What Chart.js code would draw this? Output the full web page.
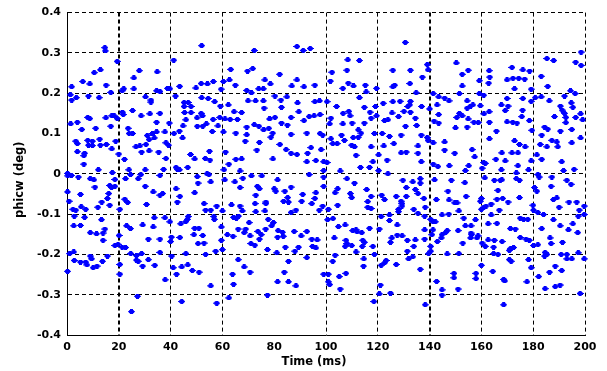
<!DOCTYPE html>
<html>
<head>
<meta charset="utf-8">
<script src="https://cdn.jsdelivr.net/npm/chart.js@4/dist/chart.umd.min.js"></script>
<style>
body{margin:0;background:#fff}
canvas{display:block}
</style>
</head>
<body>
<canvas id="scatterChart" width="607" height="371"></canvas>
<script>

// [time ms, phicw deg], grouped by time range
let pts0to50=[
[14.6,0.313],[14.8,0.305],[19.4,0.279],[41.2,0.282],[12.9,0.258],[10.5,0.251],[27.9,0.256],[34.8,0.253],[25.8,0.238],[6.1,0.229],
[8.8,0.223],[15.1,0.220],[1.8,0.216],[21.9,0.211],[21.3,0.206],[25.8,0.211],[16.9,0.202],[34.6,0.206],[35.9,0.204],[38.8,0.212],
[39.7,0.211],[43.5,0.217],[1.3,0.196],[3.6,0.189],[1.8,0.183],[8.3,0.193],[12.4,0.189],[41.9,0.193],[30.3,0.191],[32.4,0.183],
[32.4,0.178],[45.2,0.177],[46.8,0.177],[45.2,0.167],[47.9,0.167],[45.4,0.152],[47.9,0.152],[45.9,0.134],[44.8,0.119],[25.3,0.157],
[21.4,0.153],[21.7,0.147],[28.6,0.144],[32.0,0.149],[35.9,0.150],[8.0,0.140],[8.8,0.137],[15.0,0.139],[17.3,0.144],[18.2,0.144],
[19.4,0.137],[1.4,0.124],[4.0,0.128],[11.1,0.113],[5.7,0.110],[16.9,0.118],[23.6,0.113],[24.0,0.100],[25.3,0.100],[31.0,0.095],
[33.0,0.100],[34.6,0.104],[37.8,0.104],[41.3,0.100],[43.4,0.106],[34.6,0.128],[39.5,0.126],[3.4,0.081],[4.0,0.075],[8.0,0.083],
[9.8,0.081],[8.3,0.071],[9.8,0.070],[12.6,0.086],[12.9,0.071],[15.2,0.073],[18.8,0.081],[26.6,0.067],[28.1,0.069],[30.5,0.073],
[31.7,0.085],[33.7,0.089],[38.2,0.077],[39.2,0.071],[44.6,0.089],[4.0,0.055],[6.8,0.051],[6.5,0.045],[17.3,0.062],[20.0,0.049],
[28.8,0.054],[31.7,0.057],[35.4,0.054],[38.2,0.038],[47.7,0.048],[6.5,0.024],[22.2,0.036],[42.1,0.016],[42.6,0.011],[43.4,0.010],
[46.6,0.016],[12.1,0.010],[17.5,0.003],[23.9,0.010],[30.2,0.010],[37.3,0.011],[0.2,0.001],
[0.3,-0.005],[1.7,-0.004],[4.4,-0.008],[0.2,-0.045],[5.2,-0.051],[10.8,-0.033],[9.0,-0.012],[10.4,-0.015],[16.5,-0.029],[17.2,-0.034],
[18.5,-0.031],[16.1,-0.049],[18.5,-0.014],[22.6,-0.012],[24.5,-0.002],[27.5,-0.012],[28.5,-0.002],[30.2,-0.031],[33.3,-0.045],[35.9,-0.053],
[36.9,-0.049],[35.9,-0.004],[42.1,-0.037],[43.6,-0.056],[0.8,-0.068],[2.3,-0.088],[3.4,-0.090],[5.5,-0.082],[7.2,-0.088],[11.9,-0.083],
[13.4,-0.070],[15.6,-0.061],[16.5,-0.078],[20.4,-0.088],[22.3,-0.063],[23.4,-0.071],[30.7,-0.076],[42.6,-0.070],[46.8,-0.106],[45.8,-0.119],
[46.5,-0.113],[2.8,-0.105],[6.8,-0.108],[13.3,-0.114],[33.7,-0.109],[37.8,-0.109],[39.7,-0.119],[43.9,-0.124],[2.6,-0.129],[5.2,-0.128],
[9.0,-0.146],[11.4,-0.149],[13.9,-0.147],[14.6,-0.137],[13.9,-0.165],[23.0,-0.129],[24.5,-0.136],[20.1,-0.153],[29.2,-0.127],[33.3,-0.132],
[31.4,-0.162],[35.9,-0.162],[40.3,-0.157],[40.0,-0.168],[43.6,-0.158],[18.5,-0.178],[19.7,-0.175],[21.3,-0.182],[22.6,-0.183],[1.0,-0.198],
[2.6,-0.194],[2.8,-0.215],[5.2,-0.219],[7.2,-0.219],[7.7,-0.226],[9.0,-0.204],[9.5,-0.211],[10.1,-0.233],[11.6,-0.229],[13.7,-0.217],
[15.6,-0.204],[20.4,-0.225],[20.4,-0.249],[24.6,-0.198],[26.8,-0.203],[26.8,-0.214],[27.5,-0.217],[28.8,-0.198],[29.2,-0.229],[31.4,-0.213],
[33.9,-0.227],[35.9,-0.195],[40.4,-0.204],[37.9,-0.263],[41.0,-0.233],[42.3,-0.249],[44.3,-0.231],[46.6,-0.226],[45.9,-0.198],[0.2,-0.242],
[27.2,-0.304],[24.9,-0.342],[44.3,-0.317]
]

let pts50to100=[
[52.0,0.318],[72.3,0.306],[88.8,0.316],[91.2,0.306],[93.9,0.311],[63.2,0.259],[69.7,0.255],[71.7,0.261],[82.1,0.247],[76.4,0.233],
[62.7,0.233],[60.4,0.229],[78.5,0.223],[88.8,0.233],[49.8,0.213],[51.8,0.224],[54.2,0.223],[56.5,0.229],[65.0,0.220],[59.5,0.210],
[69.4,0.207],[71.2,0.201],[74.0,0.211],[75.8,0.211],[86.8,0.218],[91.5,0.216],[95.7,0.220],[52.0,0.189],[54.5,0.187],[57.0,0.179],
[62.3,0.171],[59.2,0.168],[69.9,0.181],[72.8,0.181],[75.8,0.181],[80.3,0.193],[84.9,0.191],[82.6,0.183],[89.0,0.176],[95.7,0.179],
[97.5,0.181],[76.1,0.163],[82.8,0.165],[51.8,0.150],[64.5,0.154],[67.4,0.152],[50.2,0.139],[52.3,0.144],[56.4,0.135],[59.0,0.140],
[61.0,0.136],[63.0,0.135],[65.8,0.135],[78.2,0.136],[80.3,0.140],[86.5,0.140],[89.5,0.154],[91.5,0.132],[93.5,0.142],[95.4,0.144],
[97.7,0.147],[50.3,0.118],[52.4,0.118],[53.8,0.124],[58.3,0.119],[72.3,0.122],[74.1,0.118],[75.9,0.109],[77.9,0.113],[69.4,0.116],
[82.8,0.126],[85.1,0.121],[56.1,0.105],[60.4,0.104],[65.2,0.101],[69.4,0.097],[78.7,0.091],[79.4,0.101],[86.5,0.098],[92.6,0.101],
[97.7,0.100],[68.8,0.081],[74.3,0.078],[82.2,0.073],[94.2,0.065],[98.1,0.060],[55.0,0.056],[61.2,0.054],[73.3,0.059],[84.6,0.060],
[88.8,0.048],[92.9,0.051],[49.3,0.037],[53.4,0.038],[55.2,0.034],[65.2,0.036],[67.4,0.037],[79.5,0.037],[86.5,0.051],[92.6,0.030],
[96.1,0.033],[99.1,0.030],[62.5,0.024],[60.6,0.010],[66.8,0.007],[93.5,-0.002],[99.1,0.008],[54.1,0.000],[71.2,-0.005],[75.2,-0.005],
[50.3,-0.007],[54.8,-0.002],[60.9,-0.015],[81.3,-0.015],[99.1,-0.008],[50.6,-0.023],[55.5,-0.020],[64.8,-0.020],[67.9,-0.011],[66.8,-0.034],
[73.5,-0.031],[74.3,-0.037],[80.0,-0.037],[80.6,-0.043],[84.1,-0.043],[86.5,-0.033],[91.0,-0.051],[96.1,-0.047],[99.1,-0.031],[49.3,-0.047],
[72.9,-0.053],[76.8,-0.070],[76.8,-0.074],[83.6,-0.068],[85.2,-0.059],[85.5,-0.070],[90.6,-0.068],[94.5,-0.074],[95.7,-0.061],[98.7,-0.080],
[52.9,-0.074],[57.8,-0.080],[66.8,-0.080],[63.5,-0.077],[72.6,-0.074],[53.5,-0.090],[55.5,-0.090],[60.0,-0.092],[67.7,-0.092],[72.9,-0.094],
[76.4,-0.092],[88.4,-0.090],[97.4,-0.090],[86.5,-0.096],[56.7,-0.106],[56.9,-0.113],[64.3,-0.108],[66.2,-0.105],[65.4,-0.110],[77.7,-0.113],
[79.7,-0.121],[79.0,-0.129],[70.3,-0.121],[49.3,-0.135],[50.9,-0.135],[59.6,-0.132],[66.1,-0.137],[69.0,-0.137],[68.4,-0.146],[73.7,-0.143],
[75.0,-0.151],[74.3,-0.162],[76.7,-0.137],[81.5,-0.141],[83.2,-0.145],[83.5,-0.155],[87.7,-0.143],[92.6,-0.143],[49.0,-0.151],[52.4,-0.153],
[61.9,-0.151],[64.1,-0.155],[70.7,-0.154],[81.3,-0.157],[90.4,-0.154],[94.5,-0.162],[96.6,-0.164],[50.6,-0.173],[52.9,-0.172],[59.6,-0.165],
[71.0,-0.173],[72.5,-0.177],[77.4,-0.188],[84.3,-0.182],[89.4,-0.182],[94.8,-0.180],[96.1,-0.184],[57.4,-0.192],[60.0,-0.188],[81.0,-0.196],
[88.0,-0.192],[53.5,-0.200],[92.6,-0.208],[66.1,-0.213],[85.5,-0.217],[68.4,-0.231],[70.7,-0.244],[48.4,-0.240],[51.0,-0.244],[63.9,-0.249],
[83.9,-0.244],[99.1,-0.249],[64.3,-0.274],[55.5,-0.278],[81.3,-0.268],[85.5,-0.268],[88.4,-0.278],[77.4,-0.301],[62.5,-0.308],[57.8,-0.321]
]

let pts100to150=[
[130.6,0.326],[108.4,0.283],[112.9,0.281],[108.1,0.257],[102.3,0.252],[125.8,0.257],[132.6,0.257],[139.1,0.271],[139.4,0.258],[137.2,0.240],
[101.7,0.230],[108.6,0.225],[110.6,0.218],[106.5,0.212],[115.2,0.220],[119.5,0.212],[125.8,0.216],[126.5,0.220],[132.4,0.224],[115.5,0.203],
[134.8,0.201],[141.4,0.199],[112.9,0.189],[143.5,0.191],[145.8,0.188],[147.5,0.181],[100.4,0.179],[104.1,0.167],[114.8,0.165],[119.1,0.167],
[122.1,0.175],[125.8,0.179],[128.6,0.180],[132.6,0.180],[132.3,0.171],[131.6,0.167],[142.9,0.171],[136.9,0.167],[140.0,0.161],[108.8,0.155],
[106.6,0.150],[117.0,0.153],[119.5,0.144],[125.5,0.151],[130.1,0.155],[132.6,0.153],[143.5,0.147],[101.9,0.138],[109.3,0.144],[117.4,0.138],
[122.6,0.132],[123.9,0.134],[128.0,0.142],[134.5,0.138],[141.7,0.131],[143.5,0.126],[106.5,0.124],[110.1,0.126],[114.8,0.126],[101.4,0.124],
[130.7,0.118],[112.5,0.109],[113.5,0.101],[135.0,0.120],[98.7,0.096],[101.9,0.087],[106.0,0.096],[110.5,0.090],[112.5,0.091],[118.7,0.100],
[121.7,0.100],[124.5,0.093],[129.0,0.096],[136.8,0.096],[139.1,0.090],[139.4,0.083],[102.6,0.075],[104.3,0.075],[107.1,0.083],[109.9,0.071],
[111.0,0.067],[126.2,0.075],[135.5,0.069],[141.4,0.077],[145.8,0.079],[145.8,0.059],[111.6,0.046],[117.4,0.067],[122.3,0.069],[129.0,0.052],
[131.0,0.054],[135.5,0.051],[120.3,0.047],[123.6,0.034],[118.1,0.030],[136.8,0.030],[100.4,0.028],[105.5,0.007],[113.3,0.016],[116.8,0.016],
[120.3,0.008],[123.9,0.000],[141.4,0.024],[143.2,0.018],[147.6,0.020],
[108.1,-0.012],[111.0,-0.023],[129.7,-0.016],[133.5,-0.020],[136.4,-0.012],[136.4,-0.023],[141.9,-0.015],[148.4,-0.016],[104.5,-0.037],[103.5,-0.047],
[109.4,-0.049],[109.9,-0.059],[115.7,-0.039],[117.4,-0.056],[121.5,-0.053],[122.6,-0.064],[127.1,-0.056],[131.0,-0.034],[131.0,-0.056],[134.5,-0.039],
[135.5,-0.049],[137.8,-0.061],[142.6,-0.064],[147.1,-0.043],[147.5,-0.065],[100.9,-0.088],[104.5,-0.078],[116.1,-0.069],[116.1,-0.083],[117.4,-0.086],
[129.0,-0.068],[129.3,-0.074],[129.3,-0.080],[128.0,-0.088],[128.0,-0.094],[133.9,-0.088],[138.3,-0.083],[100.6,-0.114],[102.7,-0.111],[121.3,-0.106],
[124.5,-0.102],[124.5,-0.116],[135.5,-0.098],[138.1,-0.105],[140.4,-0.113],[141.3,-0.119],[142.2,-0.119],[144.8,-0.102],[147.4,-0.100],[104.8,-0.131],
[107.4,-0.127],[110.3,-0.141],[111.6,-0.139],[112.0,-0.144],[113.8,-0.146],[116.8,-0.135],[120.6,-0.137],[127.5,-0.127],[127.5,-0.152],[129.4,-0.154],
[125.4,-0.159],[131.4,-0.165],[134.5,-0.164],[138.1,-0.139],[138.1,-0.162],[141.3,-0.139],[140.9,-0.151],[144.8,-0.151],[144.5,-0.159],[146.8,-0.141],
[146.1,-0.146],[143.0,-0.168],[103.2,-0.159],[107.7,-0.165],[108.1,-0.173],[107.4,-0.180],[109.9,-0.178],[114.2,-0.165],[114.8,-0.170],[114.0,-0.180],
[118.1,-0.180],[124.9,-0.170],[133.9,-0.180],[131.4,-0.192],[140.4,-0.180],[111.6,-0.194],[118.7,-0.200],[140.4,-0.192],[139.6,-0.198],[146.8,-0.199],
[103.5,-0.202],[114.6,-0.211],[131.9,-0.211],[133.5,-0.206],[102.6,-0.217],[123.2,-0.215],[122.6,-0.221],[121.3,-0.227],[127.1,-0.225],[114.5,-0.229],
[136.4,-0.237],[100.9,-0.249],[107.7,-0.247],[105.1,-0.255],[100.9,-0.268],[101.4,-0.275],[121.0,-0.276],[142.7,-0.267],[105.5,-0.286],[120.6,-0.298],
[124.9,-0.296],[144.8,-0.288],[144.8,-0.301],[118.5,-0.317],[138.3,-0.325]
]

let pts150to200=[
[198.5,0.302],[185.3,0.286],[187.9,0.281],[196.4,0.277],[198.5,0.269],[150.3,0.275],[171.8,0.264],[176.0,0.258],[178.6,0.255],[154.9,0.257],
[163.0,0.256],[152.6,0.247],[163.2,0.240],[159.2,0.231],[169.9,0.233],[172.2,0.237],[174.4,0.237],[176.7,0.235],[183.1,0.242],[162.8,0.225],
[152.6,0.218],[172.8,0.211],[179.2,0.210],[185.6,0.217],[194.4,0.206],[196.2,0.199],[151.5,0.199],[159.2,0.199],[160.9,0.195],[169.9,0.187],
[176.0,0.187],[179.2,0.180],[180.8,0.189],[183.1,0.191],[186.2,0.181],[192.1,0.193],[154.5,0.181],[194.7,0.176],[190.5,0.168],[154.5,0.163],
[155.8,0.168],[156.7,0.171],[167.7,0.171],[170.3,0.168],[159.6,0.169],[191.2,0.158],[195.3,0.165],[151.5,0.150],[163.0,0.154],[161.0,0.149],
[169.2,0.157],[175.9,0.158],[192.1,0.150],[198.3,0.149],[150.5,0.140],[152.6,0.144],[154.9,0.136],[157.1,0.128],[158.8,0.127],[175.6,0.142],
[178.5,0.132],[188.2,0.142],[192.6,0.140],[196.4,0.140],[163.1,0.128],[169.9,0.129],[172.1,0.128],[173.7,0.126],[192.6,0.127],[199.1,0.134],
[150.0,0.114],[154.5,0.116],[179.5,0.108],[184.4,0.116],[185.6,0.111],[165.8,0.106],[183.3,0.096],[190.5,0.106],[194.9,0.110],[163.1,0.087],
[172.8,0.082],[174.7,0.073],[176.9,0.067],[182.7,0.073],[187.2,0.083],[189.1,0.079],[189.5,0.067],[194.9,0.077],[198.3,0.089],[185.3,0.067],
[149.7,0.051],[156.4,0.060],[157.4,0.042],[167.9,0.052],[171.8,0.052],[174.1,0.052],[181.4,0.047],[165.6,0.036],[169.2,0.032],[179.2,0.032],
[183.3,0.036],[160.9,0.028],[161.5,0.026],[155.1,0.020],[174.1,0.020],[191.0,0.030],[153.8,0.008],[160.3,0.014],[167.7,0.010],[173.5,0.002],
[178.2,0.010],[181.8,-0.002],[191.7,0.008],[195.8,0.011],
[153.6,-0.022],[161.3,-0.010],[165.0,-0.016],[167.3,-0.016],[167.9,-0.015],[173.5,-0.012],[174.7,-0.016],[182.3,-0.008],[187.2,-0.008],[193.0,-0.016],
[194.6,-0.026],[166.4,-0.041],[180.5,-0.034],[181.4,-0.043],[186.9,-0.031],[154.1,-0.056],[160.0,-0.061],[159.6,-0.068],[166.0,-0.063],[168.2,-0.061],
[170.3,-0.070],[174.7,-0.059],[187.8,-0.064],[189.1,-0.060],[190.0,-0.083],[193.8,-0.070],[196.8,-0.070],[199.7,-0.080],[149.7,-0.072],[150.6,-0.072],
[151.3,-0.092],[160.9,-0.083],[161.8,-0.080],[163.8,-0.075],[160.0,-0.088],[166.9,-0.090],[163.8,-0.102],[179.9,-0.078],[180.1,-0.090],[181.8,-0.096],
[184.0,-0.101],[197.8,-0.090],[197.4,-0.105],[199.7,-0.101],[153.2,-0.110],[157.7,-0.114],[162.6,-0.124],[166.0,-0.123],[175.0,-0.110],[176.3,-0.113],
[177.9,-0.113],[187.8,-0.114],[183.3,-0.136],[190.4,-0.129],[195.3,-0.124],[193.6,-0.139],[151.0,-0.141],[153.8,-0.129],[156.0,-0.129],[171.2,-0.136],
[173.1,-0.137],[197.2,-0.146],[156.0,-0.147],[156.2,-0.151],[158.7,-0.154],[158.3,-0.159],[155.8,-0.159],[162.6,-0.164],[165.0,-0.165],[168.0,-0.168],
[175.0,-0.158],[177.2,-0.162],[178.5,-0.165],[186.5,-0.159],[152.8,-0.172],[160.3,-0.172],[161.5,-0.180],[164.7,-0.182],[171.3,-0.185],[172.4,-0.183],
[170.8,-0.190],[180.1,-0.178],[181.8,-0.176],[186.9,-0.173],[191.3,-0.170],[151.3,-0.198],[164.7,-0.198],[166.4,-0.200],[184.6,-0.195],[185.3,-0.200],
[184.4,-0.204],[190.8,-0.200],[193.0,-0.200],[193.0,-0.211],[194.9,-0.211],[197.4,-0.196],[199.7,-0.211],[170.8,-0.213],[171.5,-0.217],[178.2,-0.213],
[160.0,-0.227],[179.2,-0.233],[188.5,-0.229],[149.4,-0.247],[149.4,-0.258],[157.9,-0.247],[157.9,-0.260],[164.4,-0.242],[168.6,-0.262],[169.0,-0.266],
[177.6,-0.268],[182.1,-0.255],[186.3,-0.244],[191.0,-0.240],[184.6,-0.285],[188.5,-0.280],[190.4,-0.276],[151.0,-0.286],[198.1,-0.297],[168.6,-0.325]
]

let xTicks=[0,20,40,60,80,100,120,140,160,180,200]
let yTicks=[-0.4,-0.3,-0.2,-0.1,0,0.1,0.2,0.3,0.4]


/* little matlab-ish dot marker */
let marker=document.createElement("canvas")
marker.width=7
marker.height=5
let mctx=marker.getContext("2d")
mctx.fillStyle="#0000ff"
mctx.fillRect(2,0,3,5)
mctx.fillRect(1,1,5,3)
mctx.fillRect(0,2,7,1)

let points=pts0to50.concat(pts50to100,pts100to150,pts150to200).map(p=>({x:p[0],y:p[1]}))

let tickFont={family:"'DejaVu Sans', sans-serif",size:11,weight:"bold"}
let titleFont={family:"'DejaVu Sans', sans-serif",size:11.5,weight:"bold"}

// trailing blanks nudge the labels off-centre like the original
let pad="\u00a0"

// grid lines the original leaves out (axis edges are drawn solid by the border)
function xGridColor(ctx){
let v=ctx.tick.value
if(v===0||v===80) return "rgba(0,0,0,0)"
return "#000"
}

function yGridColor(ctx){
let v=Math.round(ctx.tick.value*10)/10
if(v===-0.4||v===0.1) return "rgba(0,0,0,0)"
return "#000"
}


let chart=new Chart(document.getElementById("scatterChart"),{

type:"scatter",

data:{
datasets:[{
label:"phicw",
data:points,
pointStyle:marker,
pointRadius:3,
pointHoverRadius:3,
clip:6
}]
},

options:{
responsive:false,
animation:false,
devicePixelRatio:1,
layout:{padding:{left:0,right:22,top:9,bottom:0}},
plugins:{legend:{display:false},tooltip:{enabled:false}},
events:[],
scales:{
x:{
type:"linear",
min:0,
max:200,
afterBuildTicks:s=>{s.ticks=xTicks.map(v=>({value:v}))},
afterFit:s=>{s.height=36},
ticks:{color:"#000",font:tickFont,padding:6,maxRotation:0,autoSkip:false},
grid:{color:xGridColor,lineWidth:c=>(c.tick.value===20||c.tick.value===140)?2:1,drawTicks:false},
border:{display:true,color:"#000",width:1,dash:[4,3]},
title:{display:true,text:"Time (ms)"+pad.repeat(6),color:"#000",font:titleFont,padding:{top:0,bottom:2}}
},
y:{
type:"linear",
min:-0.4,
max:0.4,
afterBuildTicks:s=>{s.ticks=yTicks.map(v=>({value:v}))},
afterFit:s=>{s.width=67},
ticks:{color:"#000",font:tickFont,padding:6,autoSkip:false,
callback:v=>String(Math.round(v*10)/10)},
grid:{color:yGridColor,lineWidth:1,drawTicks:false},
border:{display:true,color:"#000",width:1,dash:[4,3]},
title:{display:true,text:"phicw (deg)"+pad.repeat(3),color:"#000",font:titleFont,padding:{top:13.5,bottom:0}}
}
}
}

})

</script>
</body>
</html>
